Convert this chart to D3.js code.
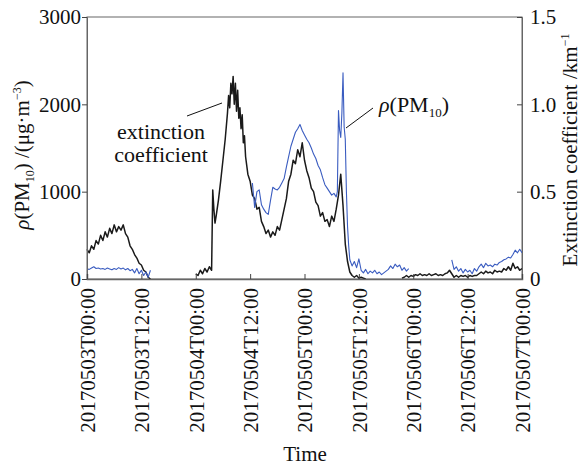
<!DOCTYPE html>
<html>
<head>
<meta charset="utf-8">
<script src="https://cdn.jsdelivr.net/npm/d3@7"></script>
<style>
  body { margin: 0; background: #fff; }
  svg text { font-family: "Liberation Serif", "Times New Roman", serif; fill: #111; }
</style>
</head>
<body>
<svg width="581" height="466"></svg>
<script>
// hours since 2017-05-03 00:00, ticks every 12 h
var tickHours = [0, 12, 24, 36, 48, 60, 72, 84, 96];
var tickLabels = ["20170503T00:00", "20170503T12:00", "20170504T00:00", "20170504T12:00",
  "20170505T00:00", "20170505T12:00", "20170506T00:00", "20170506T12:00", "20170507T00:00"];
var pmTicks = [0, 1000, 2000, 3000];
var extTicks = [0, 0.5, 1.0, 1.5];
var extTickLabels = ["0", "0.5", "1.0", "1.5"];

// each run = [start hour, step in hours, values], null breaks the line
var pm10Runs = [
  [0, 0.5, [115, 110, 125, 140, 120, 125, 115, 120, 110, 125, 115, 105, 120, 110, 130, 115, 125, 105,
    120, 95, 110, 70, 120, 60, 100, 40, 80, 20, 100]],
  [36, 0.5, [null, 1100, 820, 1000, 1020, 850, 800, 760, 740, 900, 1050, 1030, 1020, 1050, 1100, 1150,
    1280, 1400, 1520, 1600, 1680, 1720, 1770, 1700, 1650, 1600, 1560, 1500, 1430, 1380, 1300, 1250,
    1160, 1080, 1040, 1000, 960, 980, 940]],
  [55.25, 0.25, [1000, 1930, 1700, 1620, 1900, 2360, 1740, 1600, 1000, 600, 380, 220]],
  [58.5, 0.5, [150, 200, 130, 230, 100, 70, 110, 60, 90, 70, 100, 60, 80, 50, 70, 90, 110, 150, 120,
    170, 140, 160, 100, 130, 90, 120]],
  [80, 0.5, [null, 220, 110, 140, 90, 120, 70, 110, 80, 100, 60, 120, 90, 140, 170, 130, 180, 150, 160,
    140, 170, 160, 190, 200, 220, 230, 250, 240, 280, 330, 300, 340, 300]]
];

var extRuns = [
  [0, 0.5, [0.17, 0.15, 0.19, 0.17, 0.22, 0.20, 0.25, 0.22, 0.27, 0.24, 0.29, 0.26, 0.31, 0.27, 0.30,
    0.28, 0.31, 0.26, 0.24, 0.19, 0.17, 0.14, 0.12, 0.09, 0.08, 0.05, 0.04, 0.01, 0.0]],
  [23.5, 0.5, [null, 0.03, 0.02, 0.05, 0.03, 0.06, 0.04, 0.07, 0.05]],
  [27.75, 0.25, [0.51, 0.40, 0.32, 0.36]],
  [29, 0.5, [0.45, 0.56, 0.68, 0.80]],
  [31, 0.25, [0.95, 1.05, 0.98, 1.12, 1.06, 1.16, 1.00, 1.12, 0.96, 1.08, 0.92, 0.98, 0.86, 0.94,
    0.78, 0.82]],
  [35, 0.5, [0.70, 0.60, 0.56, 0.48, 0.46, 0.40, 0.41, 0.33, 0.30, 0.26, 0.28, 0.24, 0.27, 0.25, 0.30,
    0.28, 0.34, 0.40, 0.46, 0.56, 0.60, 0.68, 0.66, 0.74, 0.70, 0.78, 0.68, 0.62, 0.58, 0.52, 0.50,
    0.44, 0.42, 0.36, 0.38, 0.33, 0.34, 0.30, 0.36, 0.33, 0.40, 0.48, 0.60, 0.42, 0.20, 0.10, 0.04,
    0.02, 0.01, 0.02, 0.005, 0.01, 0.005, 0.0]],
  [69, 0.5, [null, 0.005, 0.01, 0.02, 0.01, 0.02, 0.015, 0.025, 0.02, 0.03, 0.02, 0.025, 0.02, 0.03,
    0.02, 0.025, 0.03, 0.02, 0.025, 0.02, 0.03, 0.035, 0.05, 0.03, 0.01, 0.02, 0.01, 0.02, 0.015,
    0.02, 0.01, 0.02, 0.015, 0.02, 0.02, 0.03, 0.04, 0.03, 0.045, 0.035, 0.04, 0.03, 0.05, 0.04,
    0.045, 0.04, 0.06, 0.05, 0.07, 0.05, 0.09, 0.06, 0.07, 0.05, 0.06]]
];

var svg = d3.select("svg");
var plotL = 87, plotR = 522, plotT = 17, plotB = 279;

var x = d3.scaleLinear().domain([0, 96]).range([plotL, plotR]);
var yPm = d3.scaleLinear().domain([0, 3000]).range([plotB, plotT]);
var yExt = d3.scaleLinear().domain([0, 1.5]).range([plotB, plotT]);

function toPoints(runs) {
  var pts = [];
  runs.forEach(function(r) {
    r[2].forEach(function(v, i) { pts.push({ h: r[0] + i * r[1], v: v }); });
  });
  return pts;
}

// frame
svg.append("rect")
  .attr("x", plotL).attr("y", plotT)
  .attr("width", plotR - plotL).attr("height", plotB - plotT)
  .attr("fill", "none").attr("stroke", "#666").attr("stroke-width", 1);

// lines
var pmLine = d3.line()
  .defined(function(d) { return d.v != null; })
  .x(function(d) { return x(d.h); })
  .y(function(d) { return yPm(d.v); });
var extLine = d3.line()
  .defined(function(d) { return d.v != null; })
  .x(function(d) { return x(d.h); })
  .y(function(d) { return yExt(d.v); });

svg.append("path")
  .datum(toPoints(extRuns))
  .attr("d", extLine)
  .attr("fill", "none").attr("stroke", "#1a1a1a").attr("stroke-width", 1.5)
  .attr("stroke-linejoin", "round");

svg.append("path")
  .datum(toPoints(pm10Runs))
  .attr("d", pmLine)
  .attr("fill", "none").attr("stroke", "#3a5cc0").attr("stroke-width", 1.1)
  .attr("stroke-linejoin", "round");

// axes
var leftAxis = d3.axisLeft(yPm).tickValues(pmTicks).tickSize(5).tickPadding(1)
  .tickFormat(d3.format("d"));
var rightAxis = d3.axisRight(yExt).tickValues(extTicks).tickSize(-5).tickPadding(8)
  .tickFormat(function(d, i) { return extTickLabels[i]; });
var bottomAxis = d3.axisBottom(x).tickValues(tickHours).tickSize(-5)
  .tickFormat(function(d, i) { return tickLabels[i]; });

var gl = svg.append("g").attr("transform", "translate(" + plotL + ",0)").call(leftAxis);
var gr = svg.append("g").attr("transform", "translate(" + plotR + ",0)").call(rightAxis);
var gb = svg.append("g").attr("transform", "translate(0," + plotB + ")").call(bottomAxis);

[gl, gr, gb].forEach(function(g) {
  g.select(".domain").attr("stroke", "#666");
  g.selectAll(".tick line").attr("stroke", "#444");
  g.selectAll("text").attr("font-size", 21).attr("font-family", "Liberation Serif").attr("fill", "#111");
});
gb.select(".domain").attr("stroke-width", 1.5);
gb.selectAll(".tick text")
  .attr("transform", "rotate(-90)")
  .attr("text-anchor", "end")
  .attr("x", -9).attr("y", 0).attr("dy", "0.35em");

// axis titles
svg.append("text")
  .attr("x", 305).attr("y", 461)
  .attr("text-anchor", "middle").attr("font-size", 21)
  .text("Time");

var lt = svg.append("text")
  .attr("transform", "translate(29,155) rotate(-90)")
  .attr("text-anchor", "middle").attr("font-size", 21);
lt.append("tspan").attr("font-style", "italic").text("ρ");
lt.append("tspan").text("(PM");
lt.append("tspan").attr("font-size", 12).attr("dy", 5).text("10");
lt.append("tspan").attr("dy", -5).text(") /(μg·m");
lt.append("tspan").attr("font-size", 12).attr("dy", -8).text("−3");
lt.append("tspan").attr("dy", 8).text(")");

var rt = svg.append("text")
  .attr("transform", "translate(577,150) rotate(-90)")
  .attr("text-anchor", "middle").attr("font-size", 21);
rt.append("tspan").text("Extinction coefficient /km");
rt.append("tspan").attr("font-size", 12).attr("dy", -8).text("−1");

// annotations
svg.append("line")
  .attr("x1", 187).attr("y1", 116).attr("x2", 222).attr("y2", 103)
  .attr("stroke", "#111").attr("stroke-width", 1);
svg.append("text").attr("x", 161).attr("y", 139)
  .attr("text-anchor", "middle").attr("font-size", 22).text("extinction");
svg.append("text").attr("x", 161).attr("y", 162)
  .attr("text-anchor", "middle").attr("font-size", 22).text("coefficient");

svg.append("line")
  .attr("x1", 373).attr("y1", 108).attr("x2", 346).attr("y2", 128)
  .attr("stroke", "#111").attr("stroke-width", 1);
var pt = svg.append("text").attr("x", 379).attr("y", 112).attr("font-size", 22);
pt.append("tspan").attr("font-style", "italic").text("ρ");
pt.append("tspan").text("(PM");
pt.append("tspan").attr("font-size", 13).attr("dy", 5).text("10");
pt.append("tspan").attr("dy", -5).text(")");
</script>
</body>
</html>
